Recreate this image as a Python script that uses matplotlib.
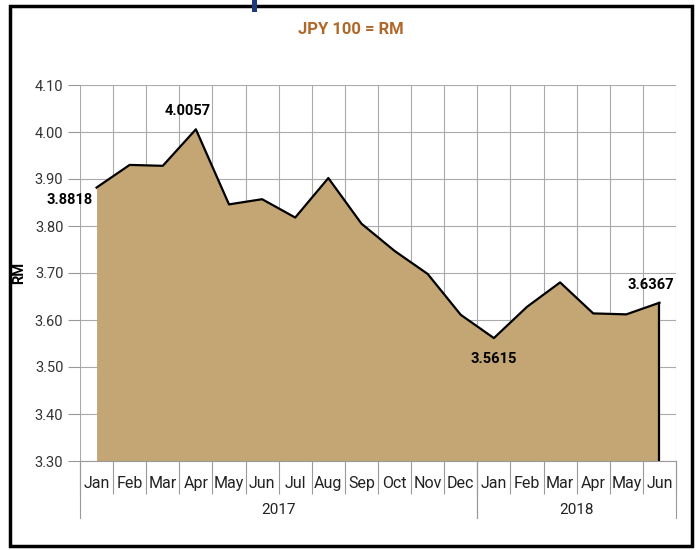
import matplotlib
matplotlib.use("Agg")
import matplotlib.pyplot as plt
from matplotlib.patches import Rectangle
from matplotlib.transforms import blended_transform_factory

months = ["Jan", "Feb", "Mar", "Apr", "May", "Jun", "Jul", "Aug", "Sep", "Oct", "Nov", "Dec",
          "Jan", "Feb", "Mar", "Apr", "May", "Jun"]
values = [3.8818, 3.930, 3.928, 4.0057, 3.846, 3.857, 3.818, 3.902, 3.805, 3.747, 3.698, 3.611,
          3.5615, 3.628, 3.680, 3.614, 3.612, 3.6367]
years = ["2017", "2018"]
year_spans = [(0, 12), (12, 18)]
labelled = {0: "3.8818", 3: "4.0057", 12: "3.5615", 17: "3.6367"}
yticks = [3.30, 3.40, 3.50, 3.60, 3.70, 3.80, 3.90, 4.00, 4.10]

plt.rcParams["font.family"] = ["Roboto", "DejaVu Sans"]

fig = plt.figure(figsize=(6.99, 5.5), dpi=100)
ax = fig.add_axes([80 / 699, 1 - 461 / 550, 596 / 699, 376 / 550])

# outer frame and the little blue mark at the top
fig.patches.append(Rectangle((10 / 699, 4 / 550), 682 / 699, 540 / 550, transform=fig.transFigure,
                             fill=False, edgecolor="black", linewidth=2.5))
fig.patches.append(Rectangle((252 / 699, 1 - 12 / 550), 5 / 699, 12 / 550, transform=fig.transFigure,
                             facecolor="#1F3A7A", edgecolor="none"))

x = [i + 0.5 for i in range(len(values))]
ymin, ymax = yticks[0], yticks[-1]
ax.fill_between(x, values, ymin, color="#C4A574", linewidth=0, zorder=2)
ax.plot(x, values, color="black", linewidth=1.6, zorder=3)
ax.plot([x[-1], x[-1]], [values[-1], ymin], color="black", linewidth=1.6, zorder=3)

ax.set_xlim(0, len(values))
ax.set_ylim(ymin, ymax)
ax.set_yticks(yticks)
ax.set_yticklabels([f"{v:.2f}" for v in yticks], fontsize=10.5, color="#333333")
ax.tick_params(axis="y", length=9, width=0.8, color="#999999", pad=3)

ax.set_xticks(range(len(values) + 1))
ax.set_xticklabels([])
ax.tick_params(axis="x", which="major", length=24, width=0.8, color="#999999")
ax.set_xticks(x, minor=True)
ax.set_xticklabels(months, minor=True, fontsize=11.5, color="#222222")
ax.tick_params(axis="x", which="minor", length=0, pad=11)

ax.grid(True, which="major", color="#AAAAAA", linewidth=0.8, zorder=0)
ax.set_axisbelow(True)
for side in ["top", "right", "left"]:
    ax.spines[side].set_visible(False)
ax.spines["bottom"].set_color("#999999")

trans = blended_transform_factory(ax.transData, ax.transAxes)
for name, (a, b) in zip(years, year_spans):
    for edge in (a, b):
        ax.plot([edge, edge], [0, -0.152], transform=trans, color="#999999", linewidth=0.8, clip_on=False)
    ax.text((a + b) / 2, -0.13, name, transform=trans, ha="center", va="center", fontsize=11, color="#222222")

for i, txt in labelled.items():
    if i == 0:
        ax.annotate(txt, (x[i], values[i]), xytext=(-3, -9), textcoords="offset points",
                    ha="right", va="center", fontsize=10.5, fontweight="bold")
    elif i == 12:
        ax.annotate(txt, (x[i], values[i]), xytext=(0, -10), textcoords="offset points",
                    ha="center", va="top", fontsize=10.5, fontweight="bold")
    else:
        ax.annotate(txt, (x[i], values[i]), xytext=(-6, 8), textcoords="offset points",
                    ha="center", va="bottom", fontsize=10.5, fontweight="bold")

ax.set_ylabel("RM", fontsize=10.5, fontweight="bold", labelpad=6)
fig.text(351 / 699, 1 - 29 / 550, "JPY 100 = RM", ha="center", va="center",
         fontsize=12, fontweight="bold", color="#B0682A")

fig.savefig("out.png", dpi=100)
